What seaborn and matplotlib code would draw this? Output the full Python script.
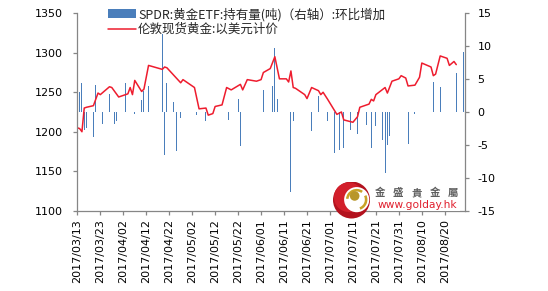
import matplotlib
matplotlib.use("Agg")
import matplotlib.pyplot as plt
import matplotlib.dates as mdates
import numpy as np
import pandas as pd
import seaborn as sns
from matplotlib.patches import Patch, Circle, Wedge, Rectangle
from matplotlib.lines import Line2D

# ---------------- data ----------------
gold_dates = [
    "2017-03-13", "2017-03-14", "2017-03-15", "2017-03-16", "2017-03-17", "2017-03-20",
    "2017-03-22", "2017-03-23", "2017-03-27", "2017-03-28", "2017-03-31", "2017-04-03",
    "2017-04-04", "2017-04-05", "2017-04-06", "2017-04-07", "2017-04-10", "2017-04-11",
    "2017-04-13", "2017-04-19", "2017-04-20", "2017-04-21", "2017-04-27", "2017-04-28",
    "2017-05-03", "2017-05-05", "2017-05-08", "2017-05-09", "2017-05-11", "2017-05-12",
    "2017-05-15", "2017-05-17", "2017-05-19", "2017-05-23", "2017-05-24", "2017-05-26",
    "2017-05-30", "2017-06-01", "2017-06-02", "2017-06-05", "2017-06-07", "2017-06-09",
    "2017-06-12", "2017-06-13", "2017-06-14", "2017-06-15", "2017-06-16", "2017-06-20",
    "2017-06-21", "2017-06-23", "2017-06-26", "2017-06-27", "2017-06-28", "2017-06-30",
    "2017-07-04", "2017-07-06", "2017-07-07", "2017-07-11", "2017-07-13", "2017-07-14",
    "2017-07-18", "2017-07-19", "2017-07-20", "2017-07-21", "2017-07-25", "2017-07-26",
    "2017-07-28", "2017-07-31", "2017-08-01", "2017-08-03", "2017-08-04", "2017-08-07",
    "2017-08-09", "2017-08-10", "2017-08-14", "2017-08-15", "2017-08-16", "2017-08-18",
    "2017-08-21", "2017-08-22", "2017-08-24", "2017-08-25",
]
gold_price = [
    1205, 1204, 1200, 1230, 1231, 1233,
    1249, 1247, 1257, 1256, 1244, 1247,
    1248, 1256, 1247, 1265, 1251, 1254,
    1284, 1279, 1282, 1281, 1262, 1266,
    1256, 1229, 1230, 1221, 1223, 1232,
    1234, 1256, 1253, 1260, 1253, 1266,
    1264, 1266, 1275, 1280, 1295, 1267,
    1267, 1263, 1277, 1256, 1255, 1247,
    1242, 1256, 1252, 1247, 1250, 1241,
    1222, 1225, 1215, 1212, 1219, 1231,
    1235, 1241, 1239, 1247, 1256, 1249,
    1264, 1267, 1271, 1268, 1258, 1259,
    1269, 1287, 1282, 1271, 1273, 1296,
    1293, 1284, 1289, 1285,
]

etf_dates = [
    "2017-03-13", "2017-03-14", "2017-03-15", "2017-03-16", "2017-03-17", "2017-03-20",
    "2017-03-21", "2017-03-24", "2017-03-27", "2017-03-29", "2017-03-30", "2017-04-03",
    "2017-04-07", "2017-04-10", "2017-04-11", "2017-04-13", "2017-04-19", "2017-04-20",
    "2017-04-21", "2017-04-24", "2017-04-25", "2017-04-27", "2017-05-04", "2017-05-08",
    "2017-05-18", "2017-05-22", "2017-05-23", "2017-06-02", "2017-06-06", "2017-06-07",
    "2017-06-08", "2017-06-14", "2017-06-15", "2017-06-21", "2017-06-23", "2017-06-26",
    "2017-06-30", "2017-07-03", "2017-07-05", "2017-07-07", "2017-07-10", "2017-07-13",
    "2017-07-17", "2017-07-18", "2017-07-19", "2017-07-21", "2017-07-24", "2017-07-25",
    "2017-07-26", "2017-07-27", "2017-08-04", "2017-08-07", "2017-08-14", "2017-08-15",
    "2017-08-18", "2017-08-25", "2017-08-28",
]
etf_change = [
    6.9, 3.0, 4.4, -2.8, -2.4, -3.8,
    4.1, -1.8, 2.7, -1.8, -1.3, 4.4,
    -0.3, 1.8, 3.2, 4.0, 11.9, -6.6,
    4.4, 1.5, -5.9, -0.9, -0.4, -1.3,
    -1.2, 1.9, -5.1, 3.4, 4.0, 9.8,
    2.0, -12.2, -1.3, 0.2, -2.9, 2.5,
    -1.3, -6.3, -5.8, -5.4, -2.8, -3.4,
    -1.9, -5.6, -5.4, -2.2, -4.3, -9.2,
    -5.0, -3.7, -4.8, -0.3, 4.0, 4.6,
    3.8, 5.9, 9.1,
]

x_tick_dates = ["2017-03-13", "2017-03-23", "2017-04-02", "2017-04-12", "2017-04-22",
                "2017-05-02", "2017-05-12", "2017-05-22", "2017-06-01", "2017-06-11",
                "2017-06-21", "2017-07-01", "2017-07-11", "2017-07-21", "2017-07-31",
                "2017-08-10", "2017-08-20"]
x_tick_labels = ["2017/03/13", "2017/03/23", "2017/04/02", "2017/04/12", "2017/04/22",
                 "2017/05/02", "2017/05/12", "2017/05/22", "2017/06/01", "2017/06/11",
                 "2017/06/21", "2017/07/01", "2017/07/11", "2017/07/21", "2017/07/31",
                 "2017/08/10", "2017/08/20"]
left_ticks = [1100, 1150, 1200, 1250, 1300, 1350]
right_ticks = [-15, -10, -5, 0, 5, 10, 15]
legend_labels = ["SPDR:黄金ETF:持有量(吨)（右轴）:环比增加", "伦敦现货黄金:以美元计价"]
brand_cn = "金盛貴金屬"
brand_url = "www.golday.hk"

# ---------------- style ----------------
sns.set_style("white")
plt.rcParams["font.family"] = ["DejaVu Sans", "Noto Sans CJK SC"]
plt.rcParams["axes.unicode_minus"] = False

BAR_C = "#4A7EBB"
LINE_C = "#EE1C2E"
AX_C = "#868686"

W, H = 548, 291
fig = plt.figure(figsize=(W / 100, H / 100), dpi=100)
fig.patch.set_facecolor("white")

L, R, T, B = 77, 465, 13.3, 210.7
rect = [L / W, 1 - B / H, (R - L) / W, (B - T) / H]
ax_line = fig.add_axes(rect)
ax_bar = ax_line.twinx()

gd = pd.to_datetime(gold_dates)
ed = pd.to_datetime(etf_dates)
df_gold = pd.DataFrame({"date": gd, "price": gold_price})

# bars (right axis)
ax_bar.bar(ed, etf_change, width=0.42, color=BAR_C, linewidth=0)
ax_bar.set_ylim(-15, 15)
ax_bar.set_yticks(right_ticks)
ax_bar.set_yticklabels([str(v) for v in right_ticks])

# line (left axis)
sns.lineplot(data=df_gold, x="date", y="price", ax=ax_line, color=LINE_C,
             linewidth=1.1, sort=True)
ax_line.set_ylim(1100, 1350)
ax_line.set_yticks(left_ticks)
ax_line.set_yticklabels([str(v) for v in left_ticks])

x0 = mdates.date2num(pd.Timestamp("2017-03-13"))
ax_line.set_xlim(x0 - 0.15, x0 + 168.8)
ax_bar.set_xlim(x0 - 0.15, x0 + 168.8)
ax_line.set_xticks(pd.to_datetime(x_tick_dates))
ax_line.set_xticklabels(x_tick_labels, rotation=90)
ax_line.set_xlabel("")
ax_line.set_ylabel("")
ax_bar.set_ylabel("")

ax_line.set_zorder(2)
ax_line.patch.set_visible(False)
ax_bar.set_zorder(1)

for a in (ax_line, ax_bar):
    for s in a.spines.values():
        s.set_visible(False)
        s.set_color(AX_C)
        s.set_linewidth(0.9)
ax_line.spines["left"].set_visible(True)
ax_line.spines["bottom"].set_visible(True)
ax_bar.spines["right"].set_visible(True)

ax_line.tick_params(axis="y", which="both", direction="out", length=3, width=0.9,
                    color=AX_C, labelsize=8, pad=7, left=True, right=False,
                    labelcolor="#000000")
ax_line.tick_params(axis="x", direction="out", length=3, width=0.9, color=AX_C,
                    labelsize=8, pad=3, bottom=True, labelcolor="#000000")
ax_bar.tick_params(axis="y", direction="out", length=3, width=0.9, color=AX_C,
                   labelsize=8, pad=6, right=True, left=False, labelcolor="#000000")
ax_bar.tick_params(axis="x", bottom=False, labelbottom=False)
ax_line.grid(False)
ax_bar.grid(False)

# legend
handles = [Patch(facecolor=BAR_C, edgecolor="none"),
           Line2D([0], [0], color=LINE_C, linewidth=1.1)]
leg = fig.legend(handles, legend_labels, loc="upper left",
                 bbox_to_anchor=(108 / W, 1 - 7.5 / H), frameon=False,
                 prop={"family": ["Noto Sans CJK SC", "DejaVu Sans"], "size": 9},
                 handlelength=2.2, handleheight=0.7, handletextpad=0.2,
                 labelspacing=0.14, borderpad=0, borderaxespad=0)

# brand / logo
fig.add_artist(Rectangle((370 / W, 1 - 211.2 / H), (460 - 370) / W, 31 / H,
                         transform=fig.transFigure, facecolor="white",
                         edgecolor="none", zorder=5))
cx, cy, r = 351.5, 200, 18.5
lax = fig.add_axes([(cx - r) / W, 1 - (cy + r) / H, 2 * r / W, 2 * r / H], zorder=6)
lax.set_xlim(-1, 1)
lax.set_ylim(-1, 1)
lax.axis("off")
lax.add_patch(Circle((0, 0), 1.0, facecolor="#B3121E", edgecolor="none"))
lax.add_patch(Circle((-0.15, 0.15), 0.8, facecolor="#D21F2B", edgecolor="none"))
lax.add_patch(Circle((0.28, 0.02), 0.68, facecolor="white", edgecolor="none"))
lax.add_patch(Wedge((0.28, 0.02), 0.58, 55, 175, width=0.14, facecolor="#C9A227",
                    edgecolor="none"))
lax.add_patch(Wedge((0.28, 0.02), 0.58, -70, 25, width=0.14, facecolor="#C9A227",
                    edgecolor="none"))
lax.add_patch(Circle((0.17, 0.22), 0.26, facecolor="#B8962A", edgecolor="none"))

for i, ch in enumerate(brand_cn):
    fig.text((380 + i * 18.2) / W, 1 - 193 / H, ch, fontsize=7.5, color="#5E5E5E",
             family=["Noto Sans CJK TC", "DejaVu Sans"], weight="bold",
             ha="center", va="center", zorder=7)
fig.text(417 / W, 1 - 205.5 / H, brand_url, fontsize=7.7, color="#E0202E",
         family="DejaVu Sans", ha="center", va="center", zorder=7)

fig.savefig("out.png", dpi=100, facecolor="white")
